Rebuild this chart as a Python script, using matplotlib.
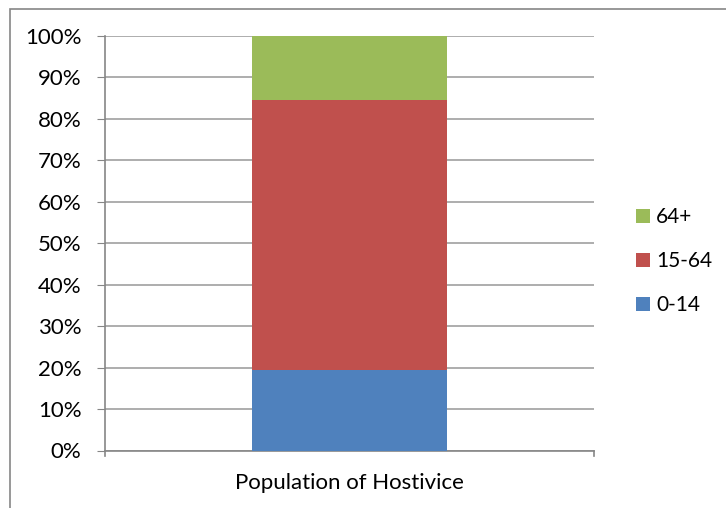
import matplotlib.pyplot as plt
import matplotlib
from matplotlib.patches import Rectangle
from matplotlib.ticker import PercentFormatter

matplotlib.rcParams['font.family'] = ['Lato', 'DejaVu Sans']

category = ["Population of Hostivice"]
groups = ["0-14", "15-64", "64+"]
shares = [19.4, 65.1, 15.5]
colors = ["#4f81bd", "#c0504d", "#9bbb59"]

fig = plt.figure(figsize=(7.26, 5.08), dpi=100)
ax = fig.add_axes([105/726, 57.5/508, 489/726, 414.8/508])

bottom = 0
bars = []
for g, v, c in zip(groups, shares, colors):
    b = ax.bar(0, v, width=0.4, bottom=bottom, color=c, label=g, zorder=3)
    bars.append(b)
    bottom += v

ax.set_xlim(-0.5, 0.5)
ax.set_ylim(0, 100)
ax.set_yticks(range(0, 101, 10))
ax.yaxis.set_major_formatter(PercentFormatter(decimals=0))
ax.set_xticks([0])
ax.set_xticklabels(category)
ax.grid(axis='y', color='#a0a0a0', linewidth=1.2, zorder=0)

for s in ['top', 'right']:
    ax.spines[s].set_visible(False)
for s in ['left', 'bottom']:
    ax.spines[s].set_color('#868686')
    ax.spines[s].set_linewidth(1.2)
ax.tick_params(axis='y', length=6, color='#868686', labelsize=16, pad=11)
ax.tick_params(axis='x', length=0, labelsize=16, pad=16)
# category boundary ticks on x axis
for xb in (-0.5, 0.5):
    ax.plot([xb, xb], [0, -1.4], color='#868686', lw=1.2, clip_on=False)

handles = bars[::-1]
leg = fig.legend(handles, groups[::-1], loc='center left',
                 bbox_to_anchor=(617/726, 247/508), frameon=False,
                 fontsize=15, handlelength=0.67, handleheight=0.67,
                 handletextpad=0.3, labelspacing=1.15)

fig.patches.append(Rectangle((10/726, -0.1), 1.2, (508-9)/508 + 0.1,
                             transform=fig.transFigure, fill=False,
                             edgecolor='#868686', linewidth=1.2))

fig.savefig("out.png", dpi=100)
